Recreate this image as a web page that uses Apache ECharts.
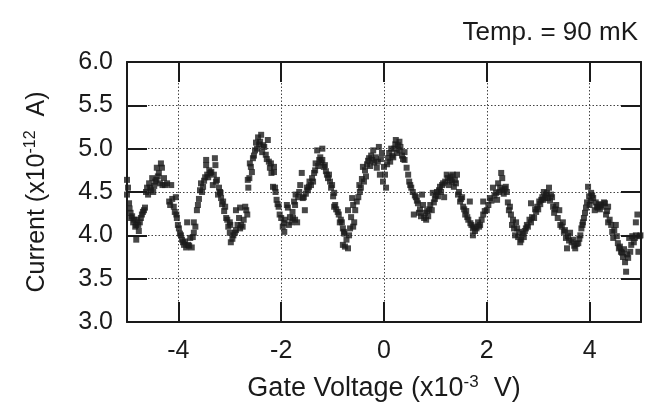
<!DOCTYPE html>
<html>
<head>
<meta charset="utf-8">
<script src="https://cdn.jsdelivr.net/npm/echarts@6/dist/echarts.min.js"></script>
<style>html,body{margin:0;padding:0;background:#fff}#c{width:663px;height:403px}</style>
</head>
<body>
<div id="c"></div>
<script>
// Gate voltage (x10^-3 V)
const gateVoltage = [
-5.00,-5.00,-4.98,-4.96,-4.95,-4.93,-4.92,-4.90,-4.88,-4.86,
-4.84,-4.82,-4.82,-4.80,-4.78,-4.77,-4.75,-4.73,-4.71,-4.69,
-4.67,-4.65,-4.63,-4.61,-4.59,-4.57,-4.55,-4.53,-4.51,-4.49,
-4.47,-4.45,-4.43,-4.42,-4.40,-4.38,-4.36,-4.34,-4.32,-4.31,
-4.28,-4.26,-4.22,-4.18,-4.16,-4.14,-4.12,-4.09,-4.07,-4.05,
-4.04,-4.03,-4.01,-3.99,-3.97,-3.95,-3.93,-3.91,-3.89,-3.87,
-3.85,-3.83,-3.81,-3.79,-3.77,-3.74,-3.72,-3.70,-3.70,-3.67,
-3.64,-3.62,-3.60,
-3.58,-3.56,-3.54,-3.52,-3.50,-3.48,-3.46,-3.46,-3.44,-3.42,
-3.40,-3.38,-3.36,-3.33,-3.31,-3.29,-3.28,-3.27,-3.25,-3.23,
-3.21,-3.19,-3.18,-3.17,-3.15,-3.13,-3.11,-3.09,-3.07,-3.05,
-3.03,-3.00,-2.99,-3.00,-2.98,-2.95,-2.93,-2.90,-2.88,-2.88,
-2.85,-2.82,-2.80,-2.80,-2.78,-2.75,-2.73,-2.70,-2.68,-2.66,
-2.65,-2.64,-2.62,-2.61,-2.59,-2.57,-2.55,-2.53,-2.51,-2.49,
-2.47,-2.45,-2.43,-2.41,-2.39,-2.37,-2.35,-2.33,-2.30,-2.28,
-2.26,-2.24,-2.22,-2.20,-2.19,-2.16,
-2.14,-2.14,-2.12,-2.11,-2.09,-2.07,-2.05,-2.03,-2.00,-1.97,
-1.95,-1.94,-1.93,-1.89,-1.87,-1.85,-1.83,-1.80,-1.78,-1.77,
-1.75,-1.73,-1.73,-1.72,-1.69,-1.67,-1.65,-1.63,-1.60,-1.58,
-1.56,-1.54,-1.52,-1.50,-1.48,-1.46,-1.45,-1.42,-1.40,-1.38,
-1.36,-1.34,-1.33,-1.30,-1.28,-1.26,-1.24,-1.22,-1.20,-1.20,
-1.17,-1.15,-1.13,-1.11,-1.09,-1.07,-1.05,-1.03,-1.01,-0.99,
-0.97,-0.97,-0.95,-0.93,-0.90,-0.88,-0.86,-0.84,-0.82,-0.80,
-0.80,-0.78,-0.77,-0.76,-0.73,-0.70,-0.70,-0.68,-0.66,-0.64,
-0.62,-0.60,-0.60,-0.58,-0.56,-0.53,-0.50,-0.48,-0.47,-0.45,
-0.43,-0.41,-0.39,-0.37,-0.35,-0.33,-0.31,-0.29,-0.27,-0.25,
-0.23,-0.21,-0.19,-0.16,-0.14,-0.12,-0.10,-0.08,-0.06,-0.04,
-0.02,0.00,0.02,0.04,0.06,0.08,0.10,0.12,0.14,0.16,
0.18,0.20,0.22,0.23,0.25,0.27,0.30,0.30,0.32,0.35,
0.37,0.40,0.40,0.44,0.47,0.49,0.51,0.53,0.56,0.58,
0.60,0.62,0.64,0.66,0.68,0.70,
0.72,0.74,0.76,0.78,0.80,0.82,0.84,0.86,0.88,0.90,
0.93,0.95,0.97,0.99,1.01,1.03,1.05,1.07,1.09,1.11,
1.13,1.15,1.17,1.19,1.22,1.24,1.26,1.28,1.30,1.32,
1.34,1.36,1.38,1.40,1.42,1.44,1.46,1.48,1.50,1.52,
1.54,1.56,1.58,1.60,1.62,1.64,1.67,1.68,1.70,1.73,
1.73,1.75,1.77,1.80,1.83,1.85,1.87,1.90,1.93,1.93,
1.96,2.00,2.03,2.06,2.09,2.12,2.15,
2.18,2.20,2.22,2.24,2.26,2.28,2.30,2.30,2.33,2.35,
2.37,2.39,2.41,2.43,2.45,2.47,2.49,2.51,2.53,2.55,
2.57,2.59,2.61,2.63,2.65,2.67,2.70,2.72,2.74,2.76,
2.78,2.80,2.83,2.86,2.86,2.88,2.92,2.94,2.96,2.98,
3.00,3.02,3.04,3.06,3.08,3.10,3.11,3.13,3.15,3.17,
3.19,3.21,3.23,3.25,3.27,3.29,3.31,3.33,3.35,3.38,
3.41,3.43,3.46,3.48,3.50,3.52,3.54,3.56,
3.58,3.60,3.62,3.65,3.68,3.70,3.72,3.75,3.78,3.80,
3.82,3.84,3.86,3.87,3.89,3.91,3.93,3.95,3.97,3.99,
4.00,4.02,4.03,4.05,4.07,4.10,4.12,4.14,4.16,4.18,
4.20,4.22,4.25,4.28,4.30,4.32,4.34,4.36,4.36,4.39,
4.42,4.44,4.46,4.48,4.51,4.53,4.55,4.57,4.59,4.61,
4.63,4.65,4.67,4.69,4.71,4.73,4.75,4.77,4.79,4.81,
4.83,4.86,4.88,4.90,4.90,4.93,4.95,4.97,4.99
];
// Current (x10^-12 A)
const current = [
4.64,4.47,4.55,4.37,4.31,4.26,4.20,4.22,4.15,4.18,
4.10,4.12,3.95,4.18,4.12,4.05,4.15,4.20,4.24,4.27,
4.29,4.32,4.50,4.55,4.47,4.60,4.55,4.52,4.66,4.50,
4.57,4.62,4.64,4.78,4.68,4.72,4.60,4.83,4.78,4.58,
4.66,4.58,4.60,4.39,4.35,4.58,4.42,4.33,4.27,4.44,
4.24,4.20,4.12,4.08,4.02,4.00,3.95,3.92,3.89,3.93,
3.86,4.15,3.89,3.88,3.97,3.86,3.98,4.03,4.15,4.10,
4.29,4.35,4.42,
4.52,4.60,4.50,4.56,4.63,4.67,4.87,4.81,4.70,4.67,
4.75,4.72,4.73,4.58,4.70,4.89,4.81,4.62,4.64,4.47,
4.55,4.50,4.49,4.43,4.36,4.39,4.28,4.33,4.20,4.18,
4.10,4.15,4.12,4.03,3.92,3.96,4.00,4.03,4.29,4.06,
4.12,4.20,4.08,4.32,4.12,4.10,4.18,4.33,4.29,4.24,
4.64,4.55,4.66,4.83,4.79,4.73,4.89,4.92,4.98,5.07,
5.00,5.13,5.05,5.08,5.16,4.96,5.04,5.02,4.93,4.88,
5.10,4.85,4.78,4.83,4.72,4.56,
4.79,4.73,4.55,4.50,4.41,4.36,4.33,4.24,4.20,4.10,
4.14,4.04,4.18,4.35,4.32,4.12,4.21,4.15,4.27,4.20,
4.39,4.18,4.35,4.47,4.15,4.44,4.50,4.58,4.72,4.43,
4.44,4.29,4.48,4.55,4.52,4.56,4.62,4.58,4.66,4.62,
4.72,4.75,4.83,4.98,4.80,4.87,4.90,4.84,5.00,4.87,
4.79,4.81,4.74,4.70,4.66,4.70,4.62,4.55,4.58,4.45,
4.49,4.33,4.35,4.30,4.27,4.24,4.15,4.18,4.15,4.08,
3.89,4.04,4.02,3.87,3.95,3.85,4.29,4.00,4.08,4.21,
4.43,4.35,4.10,4.15,4.29,4.39,4.44,4.58,4.50,4.55,
4.65,4.79,4.62,4.75,4.68,4.82,4.86,4.89,4.80,4.92,
4.87,4.98,4.84,4.90,4.78,4.85,5.02,4.70,4.88,4.95,
4.62,4.79,4.70,4.55,4.82,4.89,4.95,4.85,5.00,4.92,
4.90,5.00,5.05,5.10,4.95,5.04,5.08,4.98,5.02,4.92,
4.88,4.96,4.87,4.78,4.70,4.62,4.58,4.55,4.50,4.24,
4.46,4.44,4.40,4.37,4.26,4.30,
4.22,4.47,4.35,4.20,4.26,4.18,4.28,4.22,4.30,4.35,
4.29,4.49,4.38,4.42,4.46,4.50,4.45,4.52,4.56,4.50,
4.58,4.60,4.44,4.62,4.70,4.66,4.58,4.64,4.68,4.62,
4.70,4.56,4.64,4.60,4.70,4.47,4.50,4.39,4.42,4.44,
4.33,4.30,4.24,4.28,4.21,4.18,4.39,4.14,4.12,4.08,
4.00,4.10,4.05,4.08,4.15,4.10,4.12,4.18,4.24,4.39,
4.28,4.29,4.35,4.43,4.40,4.55,4.46,
4.49,4.41,4.60,4.50,4.55,4.72,4.52,4.66,4.48,4.54,
4.56,4.50,4.38,4.29,4.33,4.24,4.12,4.18,4.08,4.00,
4.15,4.08,3.98,4.04,3.92,3.95,4.02,3.98,4.05,4.08,
4.12,4.10,4.18,4.15,4.37,4.21,4.20,4.30,4.27,4.33,
4.30,4.39,4.36,4.41,4.44,4.41,4.50,4.43,4.47,4.49,
4.43,4.55,4.40,4.47,4.44,4.33,4.26,4.30,4.35,4.20,
4.29,4.12,4.10,4.15,4.04,4.06,3.97,3.85,
3.99,3.94,4.03,3.92,3.95,3.88,3.85,3.90,3.91,3.96,
4.00,4.08,4.12,4.15,4.20,4.26,4.32,4.38,4.56,4.45,
4.35,4.40,4.49,4.46,4.43,4.29,4.38,4.33,4.32,4.36,
4.30,4.35,4.33,4.38,4.37,4.24,4.28,4.33,4.15,4.18,
4.12,4.04,3.97,4.06,4.12,3.99,3.91,3.85,3.87,3.81,
3.80,3.75,3.84,3.69,3.58,3.78,3.74,3.97,3.81,3.89,
3.99,3.92,3.97,4.00,4.15,4.24,3.81,3.99,4.00
];
const titleText = 'Temp. = 90 mK';
const xRange = [-5, 5];
const yRange = [3, 6];

const points = gateVoltage.map((v, i) => [v, current[i]]);
const FONT = '"Liberation Sans", Arial, sans-serif';
const txt = '#1a1a1a';

const tickStyle = { inside: true, length: 20, lineStyle: { color: '#1a1a1a', width: 2 } };
const lineStyle = { color: '#1a1a1a', width: 2 };
const split = { show: true, lineStyle: { type: [1.5, 2], color: '#444', width: 1 } };

const chart = echarts.init(document.getElementById('c'), null, { renderer: 'canvas' });
chart.setOption({
  animation: false,
  backgroundColor: '#fff',
  title: {
    text: titleText, right: 20, top: 15,
    textStyle: { fontFamily: FONT, fontSize: 26, fontWeight: 'normal', color: txt }
  },
  grid: { left: 127, right: 22, top: 62, bottom: 81, containLabel: false, outerBoundsMode: 'none' },
  xAxis: [{
    type: 'value', min: xRange[0], max: xRange[1], splitNumber: 5, position: 'bottom',
    axisLine: { show: true, onZero: false, lineStyle },
    axisTick: tickStyle,
    splitLine: split,
    axisLabel: { showMinLabel: false, showMaxLabel: false, margin: 17, fontFamily: FONT, fontSize: 25, color: txt },
    name: '{n|Gate Voltage (x10}{s|-3}{n|  V)}', nameLocation: 'middle', nameGap: 52,
    nameTextStyle: { rich: {
      n: { fontFamily: FONT, fontSize: 27, color: txt },
      s: { fontFamily: FONT, fontSize: 17, color: txt, padding: [0, 0, 13, 0] }
    } }
  }, {
    type: 'value', min: xRange[0], max: xRange[1], splitNumber: 5, position: 'top',
    axisLine: { show: true, onZero: false, lineStyle },
    axisTick: tickStyle, axisLabel: { show: false }, splitLine: { show: false }
  }],
  yAxis: [{
    type: 'value', min: yRange[0], max: yRange[1], interval: 0.5, position: 'left',
    axisLine: { show: true, onZero: false, lineStyle },
    axisTick: tickStyle,
    splitLine: split,
    axisLabel: { margin: 14, fontFamily: FONT, fontSize: 25, color: txt, formatter: v => v.toFixed(1) },
    name: '{n|Current (x10}{s|-12}{n|  A)}', nameLocation: 'middle', nameGap: 76,
    nameTextStyle: { rich: {
      n: { fontFamily: FONT, fontSize: 25, color: txt },
      s: { fontFamily: FONT, fontSize: 16, color: txt, padding: [0, 0, 12, 0] }
    } }
  }, {
    type: 'value', min: yRange[0], max: yRange[1], interval: 0.5, position: 'right',
    axisLine: { show: true, onZero: false, lineStyle },
    axisTick: tickStyle, axisLabel: { show: false }, splitLine: { show: false }
  }],
  series: [{
    type: 'scatter', xAxisIndex: 0, yAxisIndex: 0,
    symbol: 'rect', symbolSize: 6,
    itemStyle: { color: '#1a1a1a' },
    data: points
  }]
});
</script>
</body>
</html>
